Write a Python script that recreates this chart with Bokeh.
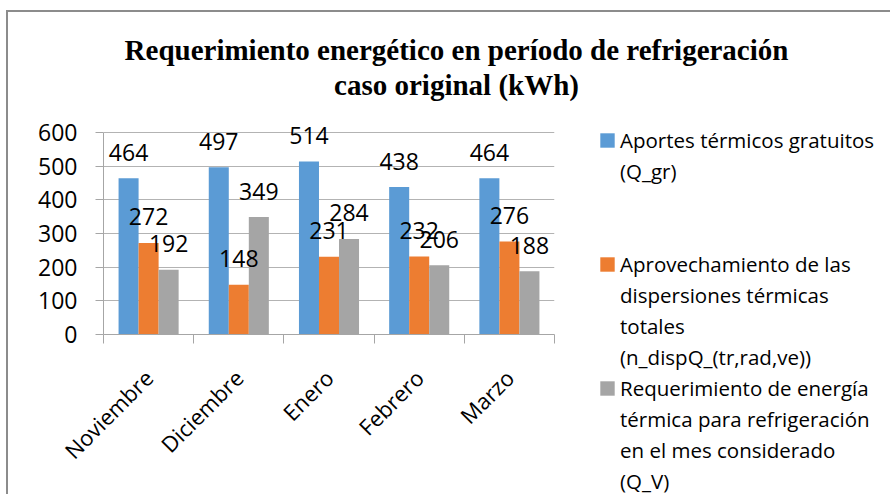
import numpy as np
from math import pi
from bokeh.plotting import figure
from bokeh.layouts import column, row
from bokeh.models import (ColumnDataSource, FixedTicker, Legend, LegendItem, Label, Range1d)
from bokeh.core.properties import value
from bokeh.embed import file_html
from bokeh.resources import INLINE

# ---------------- data ----------------
months = ["Noviembre", "Diciembre", "Enero", "Febrero", "Marzo"]
q_gr = [464, 497, 514, 438, 464]
n_disp = [272, 148, 231, 232, 276]
q_v = [192, 349, 284, 206, 188]
series_names = [
    ["Aportes térmicos gratuitos", "(Q_gr)"],
    ["Aprovechamiento de las", "dispersiones térmicas", "totales", "(n_dispQ_(tr,rad,ve))"],
    ["Requerimiento de energía", "térmica para refrigeración", "en el mes considerado", "(Q_V)"],
]
blank_rows_after = [2, 0, 0]
colors = ["#5B9BD5", "#ED7D31", "#A5A5A5"]
y_ticks = [0, 100, 200, 300, 400, 500, 600]
title_lines = ["Requerimiento energético en período de refrigeración",
               "caso original (kWh)"]

# ---------------- layout sizes (px) ----------------
TOTAL_W = 882
TITLE_H = 103
BODY_H = 379
FRAME_LEFT = 95
FRAME_W = 451
GAP_RIGHT = 35
MAIN_W = FRAME_LEFT + FRAME_W + GAP_RIGHT
LEG_W = TOTAL_W - MAIN_W
FRAME_H = 219
px_per_unit = 202 / 600
y_end = FRAME_H / px_per_unit

# ---------------- title block ----------------
pt = figure(width=TOTAL_W, height=TITLE_H, x_range=Range1d(0, TOTAL_W), y_range=Range1d(TITLE_H, 0),
            output_backend="svg", toolbar_location=None, x_axis_type=None, y_axis_type=None,
            min_border=0)
pt.grid.visible = False
pt.outline_line_color = None
for i, line in enumerate(title_lines):
    pt.add_layout(Label(x=448, y=37 + 35 * i, text=line, text_align="center",
                        text_baseline="alphabetic", text_font="Liberation Serif",
                        text_font_style="bold", text_font_size="29px", text_color="black"))

# ---------------- main chart ----------------
p = figure(width=MAIN_W, height=BODY_H, x_range=Range1d(0, len(months)), y_range=Range1d(0, y_end),
           output_backend="svg", toolbar_location=None, min_border=0,
           min_border_left=FRAME_LEFT, min_border_right=GAP_RIGHT, min_border_top=0,
           min_border_bottom=BODY_H - FRAME_H)
p.outline_line_color = None

centers = np.arange(len(months)) + 0.5
bw = 0.222
series = [q_gr, n_disp, q_v]
sources = []
for k, (vals, col) in enumerate(zip(series, colors)):
    src = ColumnDataSource(dict(x=centers + (k - 1) * bw, top=vals, lab=[str(v) for v in vals]))
    sources.append(src)
    p.vbar(x="x", top="top", width=bw, source=src, fill_color=col, line_color=None)

for src in sources:
    p.text(x="x", y="top", text="lab", source=src, text_align="center", text_baseline="middle",
           y_offset=-26, text_font=value("Open Sans"), text_font_size="23px", text_color="black")

axis_col = "#a6a6a6"
p.xaxis.ticker = FixedTicker(ticks=list(centers), minor_ticks=list(range(len(months) + 1)))
p.xaxis.major_label_overrides = {float(c): m for c, m in zip(centers, months)}
p.xaxis.major_label_orientation = pi / 4
p.xaxis.major_tick_out = 0
p.xaxis.major_tick_in = 0
p.xaxis.minor_tick_out = 9
p.xaxis.minor_tick_in = 0
p.xaxis.minor_tick_line_color = axis_col
p.xaxis.axis_line_color = axis_col
p.xaxis.major_label_text_font = "Open Sans"
p.xaxis.major_label_text_font_size = "22px"
p.xaxis.major_label_text_color = "black"
p.xaxis.major_label_standoff = 30
p.xgrid.visible = False

p.yaxis.ticker = FixedTicker(ticks=y_ticks)
p.yaxis.bounds = (0, 600)
p.yaxis.major_tick_out = 8
p.yaxis.major_tick_in = 0
p.yaxis.minor_tick_out = 0
p.yaxis.minor_tick_in = 0
p.yaxis.major_tick_line_color = axis_col
p.yaxis.axis_line_color = axis_col
p.yaxis.major_label_text_font = "Open Sans"
p.yaxis.major_label_text_font_size = "23px"
p.yaxis.major_label_text_color = "black"
p.yaxis.major_label_standoff = 18
p.ygrid.ticker = FixedTicker(ticks=y_ticks)
p.ygrid.grid_line_color = "#b3b3b3"

# ---------------- legend block ----------------
pl = figure(width=LEG_W, height=BODY_H, x_range=Range1d(0, 1), y_range=Range1d(0, 1),
            output_backend="svg", toolbar_location=None, x_axis_type=None, y_axis_type=None,
            min_border=0)
pl.grid.visible = False
pl.outline_line_color = None
# swatch renderers hold one point outside the visible range so only the legend shows them
swatches = [pl.vbar(x=[5], top=[1], width=0.1, fill_color=c, line_color=None) for c in colors]
blank = pl.vbar(x=[5], top=[1], width=0.1, fill_alpha=0, line_alpha=0)

items = []
for k in range(3):
    for j, txt in enumerate(series_names[k]):
        items.append(LegendItem(label=txt, renderers=[swatches[k] if j == 0 else blank]))
    for _ in range(blank_rows_after[k]):
        items.append(LegendItem(label=" ", renderers=[blank]))

leg = Legend(items=items, location="top_left", glyph_width=18, glyph_height=18,
             label_standoff=4, padding=0, margin=9, spacing=0, label_height=31,
             border_line_color=None, background_fill_alpha=0,
             label_text_font="Open Sans", label_text_font_size="20.5px",
             label_text_color="black")
pl.add_layout(leg)

# keep each figure's plot area independent (no frame alignment across the row)
for fig in (pt, p, pl):
    if "frame_align" in type(fig).properties():
        fig.frame_align = False

layout = column(pt, row(p, pl), styles={
    "margin-left": "6px", "margin-top": "10px",
    "border-left": "2px solid #8c8c8c", "border-top": "2px solid #8c8c8c"})

open("out.html", "w").write(file_html(layout, INLINE))
